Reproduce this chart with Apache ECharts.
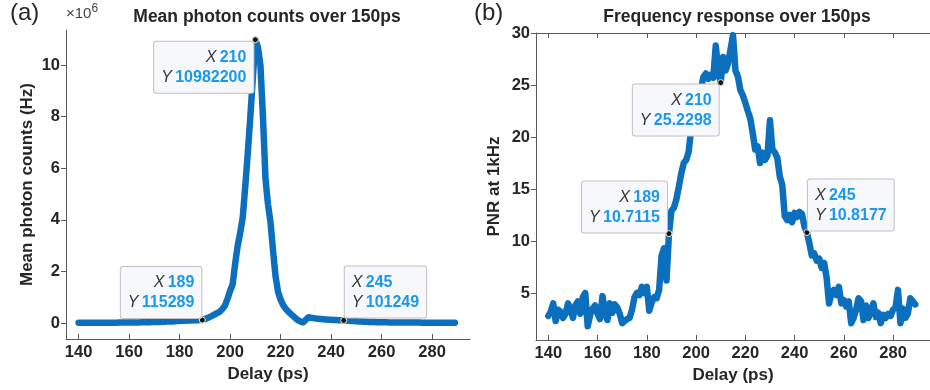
<!DOCTYPE html>
<html>
<head>
<meta charset="utf-8">
<script src="https://cdn.jsdelivr.net/npm/echarts@6/dist/echarts.min.js"></script>
<style>
html, body { margin: 0; padding: 0; background: #fff; }
#main { width: 930px; height: 390px; }
</style>
</head>
<body>
<div id="main"></div>
<script>
// delay axis, 1 ps steps
var delays = [];
for (var d = 140; d <= 289; d++) delays.push(d);

var xTicks = [140, 160, 180, 200, 220, 240, 260, 280];
var countTicks = [0, 2e6, 4e6, 6e6, 8e6, 10e6];
var pnrTicks = [5, 10, 15, 20, 25, 30];

// (a) mean photon counts (Hz)
var counts = [
    8000, 8200, 8500, 8700, 9000, 9300, 9600, 10000, 10400, 10800,
    11300, 11800, 12300, 12900, 13500, 14200, 15000, 15800, 16700, 17700,
    18800, 20000, 21300, 22700, 24200, 25900, 27700, 29700, 31900, 34300,
    36900, 39800, 42900, 46300, 50000, 54000, 58400, 63100, 68200, 73700,
    79600, 85000, 89000, 93000, 97000, 101000, 105000, 108500, 112000, 115289,
    150000, 190000, 240000, 290000, 340000, 390000, 450000, 550000, 680000, 950000,
    1250000, 1500000, 2300000, 3000000, 3500000, 4100000, 5300000, 6600000, 8000000, 9500000,
    10982200, 10700000, 10000000, 8000000, 5600000, 4600000, 3900000, 2800000, 1800000, 1200000,
    900000, 700000, 550000, 450000, 350000, 270000, 180000, 100000, 50000, 30000,
    130000, 220000, 205000, 190000, 175000, 165000, 155000, 145000, 137000, 130000,
    124000, 118000, 113000, 108000, 104000, 101249, 95000, 88000, 80000, 73000,
    66000, 60000, 55000, 50000, 46000, 42000, 39000, 36000, 33000, 31000,
    29000, 27000, 25500, 24000, 23000, 22000, 21000, 20000, 19200, 18500,
    17800, 17200, 16600, 16000, 15500, 15000, 14600, 14200, 13800, 13400,
    13000, 12700, 12400, 12100, 11800, 11500, 11200, 11000, 10800, 10600
];

// (b) PNR at 1 kHz
var pnr = [
    2.8, 3.2, 4.0, 2.3, 3.4, 3.2, 2.6, 3.0, 4.0, 3.5,
    2.6, 3.8, 4.2, 3.0, 4.6, 5.0, 1.8, 2.9, 3.5, 3.8,
    3.0, 2.5, 4.7, 3.2, 2.4, 4.0, 3.1, 3.9, 3.6, 3.0,
    2.1, 2.3, 2.5, 2.6, 3.4, 4.6, 5.0, 4.8, 5.6, 5.0,
    5.6, 3.3, 4.1, 4.6, 4.5, 5.3, 8.6, 9.3, 6.2, 10.7115,
    12.9, 13.2, 14.0, 15.2, 16.5, 17.5, 17.8, 18.6, 20.7, 22.6,
    23.3, 24.0, 24.6, 25.8, 26.1, 25.6, 26.0, 25.7, 28.8, 26.4,
    25.2298, 27.7, 26.4, 27.1, 28.4, 29.8, 26.4, 25.8, 24.5, 24.0,
    23.3, 22.5, 21.8, 20.4, 18.8, 19.1, 17.5, 18.5, 17.8, 18.2,
    21.6, 18.8, 18.5, 18.0, 16.2, 15.4, 12.4, 12.0, 12.5, 11.8,
    12.7, 12.3, 12.8, 12.6, 11.4, 10.8177, 9.8, 8.6, 8.8, 8.1,
    8.3, 7.4, 7.9, 6.5, 4.0, 5.0, 5.3, 4.8, 5.6, 4.0,
    4.3, 3.7, 4.2, 2.1, 2.6, 3.4, 4.5, 4.2, 2.4, 3.8,
    2.6, 3.3, 4.0, 2.7, 3.1, 2.1, 2.9, 2.6, 3.0, 2.8,
    3.4, 3.6, 5.3, 2.1, 3.5, 2.6, 3.0, 4.5, 4.2, 3.9
];

// data tips at these delays
var tipDelays = [189, 210, 245];

var lineColor = '#0c6fbd';
var font = '"Liberation Sans", Arial, sans-serif';
var textColor = '#262626';
var axisColor = '#5a5a5a';

function pairs(vals) {
    return delays.map(function (d, i) { return [d, vals[i]]; });
}

function tip(vals, d, align, vAlign, offset) {
    var v = vals[delays.indexOf(d)];
    return {
        coord: [d, v],
        label: {
            show: true,
            position: 'inside',
            align: align,
            verticalAlign: vAlign,
            offset: offset,
            formatter: '{k|X} {v|' + d + '}\n{k|Y} {v|' + v + '}',
            backgroundColor: '#f7f8fc',
            borderColor: '#bfbfc4',
            borderWidth: 1,
            borderRadius: 2,
            padding: [6, 7, 5, 7],
            rich: {
                k: { fontFamily: font, fontSize: 16, fontStyle: 'italic', color: '#333', lineHeight: 20 },
                v: { fontFamily: font, fontSize: 16, fontWeight: 'bold', color: '#1a98f0', lineHeight: 20 }
            }
        }
    };
}

function markPts(vals, layout) {
    return {
        symbol: 'circle',
        symbolSize: 6,
        itemStyle: { color: '#111', borderColor: '#f3efc4', borderWidth: 1 },
        data: tipDelays.map(function (d, i) {
            return tip(vals, d, layout[i][0], layout[i][1], layout[i][2]);
        })
    };
}

function xAxisOpt(gridIndex, pos, showLabel) {
    return {
        type: 'value', gridIndex: gridIndex, position: pos,
        min: 135, max: 295,
        name: showLabel ? 'Delay (ps)' : '',
        nameLocation: 'middle', nameGap: 26,
        nameTextStyle: { fontFamily: font, fontSize: 17, fontWeight: 'bold', color: textColor },
        axisLine: { show: true, onZero: false, lineStyle: { color: axisColor, width: 1 } },
        axisTick: { show: true, inside: true, length: 5, customValues: xTicks, lineStyle: { color: axisColor } },
        axisLabel: { show: showLabel, margin: 5, customValues: xTicks,
            fontFamily: font, fontSize: 16.5, fontWeight: 'bold', color: textColor },
        splitLine: { show: false }
    };
}

var chart = echarts.init(document.getElementById('main'), null, { renderer: 'canvas' });

chart.setOption({
    animation: false,
    backgroundColor: '#fff',
    grid: [
        { left: 66, top: 30, width: 404, height: 309 },
        { left: 536, top: 33, width: 404, height: 307 }
    ],
    xAxis: [
        xAxisOpt(0, 'bottom', true),
        xAxisOpt(1, 'bottom', true),
        xAxisOpt(1, 'top', false)
    ],
    yAxis: [
        {
            type: 'value', gridIndex: 0,
            min: -0.62e6, max: 11.36e6,
            name: 'Mean photon counts (Hz)',
            nameLocation: 'middle', nameGap: 30,
            nameTextStyle: { fontFamily: font, fontSize: 17, fontWeight: 'bold', color: textColor },
            axisLine: { show: true, lineStyle: { color: axisColor } },
            axisTick: { show: true, length: 5, customValues: countTicks, lineStyle: { color: axisColor } },
            axisLabel: { margin: 6, customValues: countTicks,
                fontFamily: font, fontSize: 16.5, fontWeight: 'bold', color: textColor,
                formatter: function (v) { return Math.round(v / 1e6); } },
            splitLine: { show: false }
        },
        {
            type: 'value', gridIndex: 1,
            min: 0.48, max: 30,
            name: 'PNR at 1kHz',
            nameLocation: 'middle', nameGap: 33,
            nameTextStyle: { fontFamily: font, fontSize: 17, fontWeight: 'bold', color: textColor },
            axisLine: { show: true, lineStyle: { color: axisColor } },
            axisTick: { show: true, length: 5, customValues: pnrTicks, lineStyle: { color: axisColor } },
            axisLabel: { margin: 6, customValues: pnrTicks,
                fontFamily: font, fontSize: 16.5, fontWeight: 'bold', color: textColor },
            splitLine: { show: false }
        }
    ],
    graphic: [
        { type: 'text', left: 10, top: 1, style: { text: '(a)', font: '24px ' + font, fill: textColor } },
        { type: 'text', left: 474, top: 1, style: { text: '(b)', font: '24px ' + font, fill: textColor } },
        { type: 'text', left: 66, top: 3, style: {
            text: '{a|×10}{b|6}',
            rich: {
                a: { fontFamily: font, fontSize: 15, fill: '#444', padding: [9, 0, 0, 0] },
                b: { fontFamily: font, fontSize: 12, fill: '#444' }
            }
        } },
        { type: 'text', x: 267, y: 17, style: {
            text: 'Mean photon counts over 150ps', font: 'bold 17.5px ' + font,
            fill: textColor, align: 'center', verticalAlign: 'middle' } },
        { type: 'text', x: 737, y: 17, style: {
            text: 'Frequency response over 150ps', font: 'bold 17.5px ' + font,
            fill: textColor, align: 'center', verticalAlign: 'middle' } }
    ],
    series: [
        {
            type: 'line', xAxisIndex: 0, yAxisIndex: 0,
            data: pairs(counts),
            showSymbol: false,
            lineStyle: { color: lineColor, width: 6.5, join: 'round', cap: 'round' },
            markPoint: markPts(counts, [
                ['right', 'bottom', [-1, -2]],
                ['right', 'top', [-2, 2]],
                ['left', 'bottom', [1, -3]]
            ])
        },
        {
            type: 'line', xAxisIndex: 1, yAxisIndex: 1,
            data: pairs(pnr),
            showSymbol: false,
            lineStyle: { color: lineColor, width: 6.5, join: 'round', cap: 'round' },
            markPoint: markPts(pnr, [
                ['right', 'bottom', [-2, -1]],
                ['right', 'top', [-2, 2]],
                ['left', 'bottom', [1, -2]]
            ])
        }
    ]
});
</script>
</body>
</html>
